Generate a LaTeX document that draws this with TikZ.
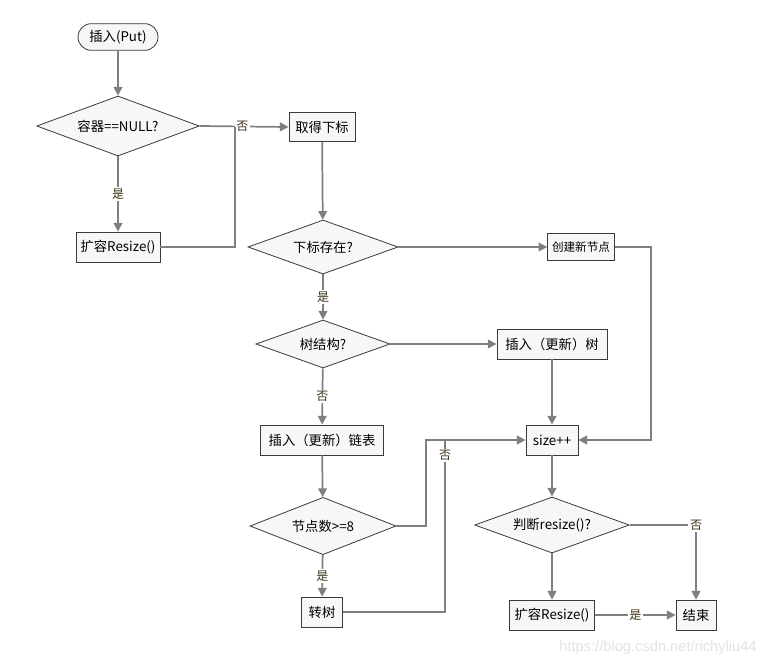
\documentclass[tikz,border=0pt]{standalone}
\usepackage{fontspec}
\newfontfamily\cjk{Noto Sans CJK SC}
\newfontfamily\wmfont{Liberation Sans}
\usepackage{xcolor}
\usepackage{tikz}
\usetikzlibrary{shapes.geometric,arrows.meta}

\definecolor{linegray}{HTML}{7F7F7F}
\definecolor{edgegray}{HTML}{3A3A3A}
\definecolor{boxfill}{HTML}{F7F7F7}
\definecolor{lbltext}{HTML}{3C3214}
\definecolor{markgray}{HTML}{E2E2E2}

\tikzset{
  box/.style={rectangle, draw=edgegray, fill=boxfill, line width=0.6pt,
    minimum height=22.5pt, inner sep=2pt, font=\cjk\fontsize{10}{12}\selectfont},
  decision/.style={diamond, draw=edgegray, fill=boxfill, line width=0.6pt,
    inner sep=0pt, aspect=2.8, font=\cjk\fontsize{10}{12}\selectfont},
  terminal/.style={rectangle, rounded corners=10pt, draw=edgegray, fill=boxfill,
    line width=0.6pt, minimum width=60pt, minimum height=20pt, inner sep=2pt,
    font=\cjk\fontsize{10}{12}\selectfont},
  conn/.style={draw=linegray, line width=1.3pt},
  flow/.style={conn, -{Triangle[length=6.5pt,width=6.5pt]}, color=linegray},
  lbl/.style={fill=white, inner sep=1.2pt, text=lbltext,
    font=\cjk\fontsize{9}{11}\selectfont}
}

\begin{document}
\begin{tikzpicture}[x=0.75pt, y=-0.75pt, line cap=butt, line join=miter]
    \useasboundingbox (0,0) rectangle (771,664);

    % Nodes
    \node[terminal] (put) at (118,37) {插入(Put)};
    \node[decision, minimum width=122pt, minimum height=45pt] (isnull) at (118,126) {容器==NULL?};
    \node[box, minimum width=63pt] (resizea) at (118,247) {扩容Resize()};
    \node[box, minimum width=49.5pt, minimum height=22pt] (getidx) at (322,127) {取得下标};
    \node[decision, minimum width=112.5pt, minimum height=40.5pt] (idxexist) at (323,247) {下标存在?};
    \node[box, minimum width=50pt, minimum height=20pt,
          font=\cjk\fontsize{8.7}{10}\selectfont] (newnode) at (581,247) {创建新节点};
    \node[decision, minimum width=100.5pt, minimum height=36pt] (istree) at (323,344) {树结构?};
    \node[box, minimum width=82.5pt] (updtree) at (552,344) {插入（更新）树};
    \node[box, minimum width=92pt] (updlist) at (322,440) {插入（更新）链表};
    \node[decision, minimum width=109.5pt, minimum height=43pt] (count) at (323,526) {节点数>=8};
    \node[box, minimum width=31pt] (totree) at (322,612) {转树};
    \node[box, minimum width=39pt] (sizeinc) at (552,440) {size++};
    \node[decision, minimum width=116pt, minimum height=42pt] (needresize) at (552,525) {判断resize()?};
    \node[box, minimum width=64pt] (resizeb) at (552,615) {扩容Resize()};
    \node[box, minimum width=30pt] (finish) at (696,615) {结束};

    % Joints
    \coordinate (jnull) at (235,127);
    \coordinate (jnew) at (651,440);
    \coordinate (jcount) at (426,440);
    \coordinate (jtree) at (445,440);

    % Connections
    \draw[flow] (put) -- (isnull);
    \draw[flow] (isnull) -- node[lbl] {是} (resizea);
    \draw[flow] (isnull.east) -- node[lbl, pos=0.48] {否} (getidx.west);
    \draw[conn] (resizea.east) -| (jnull);
    \draw[flow] (getidx) -- (idxexist);
    \draw[flow] (idxexist.east) -- (newnode.west);
    \draw[flow] (newnode.east) -| (jnew) -- (sizeinc.east);
    \draw[flow] (idxexist) -- node[lbl] {是} (istree);
    \draw[flow] (istree.east) -- (updtree.west);
    \draw[flow] (updtree) -- (sizeinc);
    \draw[flow] (istree) -- node[lbl] {否} (updlist);
    \draw[flow] (updlist) -- (count);
    \draw[flow] (count.east) -| (jcount) -- (sizeinc.west);
    \draw[flow] (count) -- node[lbl] {是} (totree);
    \draw[conn] (totree.east) -| node[lbl, pos=0.955] {否} (jtree);
    \draw[flow] (sizeinc) -- (needresize);
    \draw[flow] (needresize) -- (resizeb);
    \draw[flow] (needresize.east) -| node[lbl, pos=0.5] {否} (finish.north);
    \draw[flow] (resizeb.east) -- node[lbl] {是} (finish.west);

    % Watermark
    \node[text=markgray, font=\wmfont\fontsize{11}{13}\selectfont] (mark) at (658,648) {https://blog.csdn.net/richyliu44};
\end{tikzpicture}
\end{document}
